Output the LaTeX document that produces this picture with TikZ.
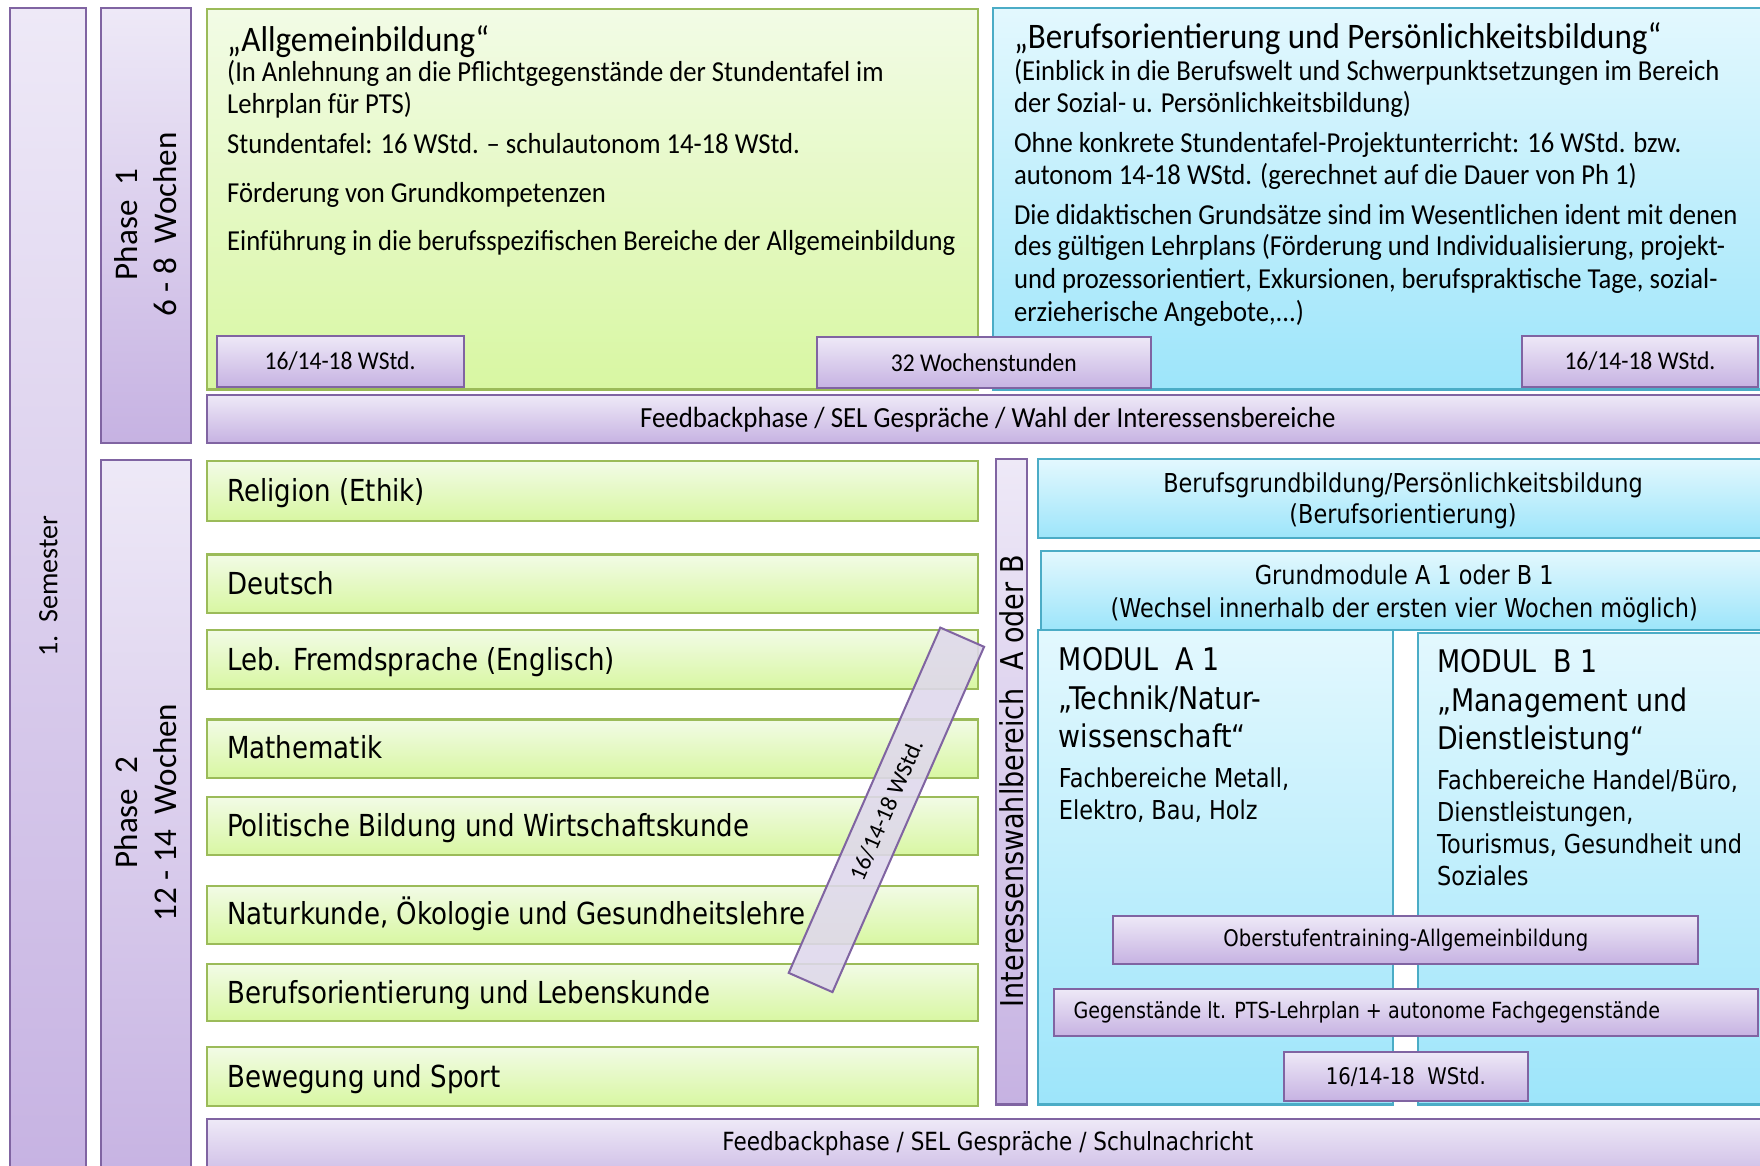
\documentclass[tikz,border=0pt]{standalone}
\usepackage{fontspec}
\setmainfont{Carlito}
\newfontfamily\condf[FakeStretch=0.92]{Carlito}
\newfontfamily\tahf[FakeStretch=0.86]{DejaVu Sans}
\newcommand\fsz[2]{\fontsize{#1pt}{#2pt}\selectfont}
\definecolor{pbord}{HTML}{8064A2}
\definecolor{ptop}{HTML}{EEE9F7}
\definecolor{pbot}{HTML}{C6B2E2}
\definecolor{gbord}{HTML}{9BBB59}
\definecolor{gtop}{HTML}{F2FBE6}
\definecolor{gbot}{HTML}{D8F7A2}
\definecolor{bbord}{HTML}{4BACC6}
\definecolor{btop}{HTML}{E3F8FE}
\definecolor{bbot}{HTML}{9DE5FA}
\definecolor{dgfill}{HTML}{DFD8EC}
\tikzset{
  boxbase/.style={line width=0.9pt, inner sep=0pt, outer sep=0pt, anchor=north west},
  pbx/.style={boxbase, draw=pbord, top color=ptop, bottom color=pbot},
  gbx/.style={boxbase, draw=gbord, top color=gtop, bottom color=gbot},
  bbx/.style={boxbase, draw=bbord, top color=btop, bottom color=bbot},
  tl/.style={inner sep=0pt, anchor=base west},
  body/.style={tl, font={\condf\fsz{12.9}{14}}},
  ttl/.style={tl, font={\condf\fsz{16}{18}}},
  sub/.style={tl, font={\tahf\fsz{13.5}{15}}},
  mtitle/.style={tl, font={\tahf\fsz{13.9}{16}}},
  mbody/.style={tl, font={\tahf\fsz{11.6}{13}}},
  smalltah/.style={font={\tahf\fsz{9.9}{12}}},
}
% optional text, style, name, x1, y1, x2, y2
\newcommand\placebox[7][]{\node[#2, minimum width={(#6-#4)*0.5pt}, minimum height={(#7-#5)*0.5pt}] (#3) at (#4,#5) {#1};}
\begin{document}
\begin{tikzpicture}[x=0.5pt,y=-0.5pt]
\useasboundingbox (0,0) rectangle (1568,1038);
\clip (0,0) rectangle (1568,1038);
\fill[white] (0,0) rectangle (1568,1038);

% left columns
\placebox{pbx}{sem}{9}{7}{77}{1060}
\placebox{pbx}{ph1}{90}{7}{170}{395}
\placebox{pbx}{ph2}{90}{410}{170}{1060}
\node[rotate=90] (semt) at (43,522) {\fsz{12.5}{15}1.\ \ Semester};
\node[rotate=90, align=center, font={\fsz{14.75}{17.5}}] (ph1t) at (130,200) {Phase\ \ 1\\6 - 8\ \ Wochen};
\node[rotate=90, align=center, font={\fsz{14.75}{17.5}}] (ph2t) at (130,724) {Phase\ \ 2\\12 - 14\ \ Wochen};

% phase 1 boxes
\placebox{gbx}{allg}{184}{8}{871}{347}
\placebox{bbx}{beruf}{885}{7}{1580}{347}

\node[ttl] (a0) at (202,46) {„Allgemeinbildung“};
\node[body] (a1) at (202,73) {(In Anlehnung an die Pflichtgegenstände der Stundentafel im};
\node[body] (a2) at (202,101) {Lehrplan für PTS)};
\node[body] (a3) at (202,137) {Stundentafel: 16 WStd. – schulautonom 14-18 WStd.};
\node[body] (a4) at (202,180) {Förderung von Grundkompetenzen};
\node[body] (a5) at (202,223) {Einführung in die berufsspezifischen Bereiche der Allgemeinbildung};

\node[ttl] (b0) at (903,43) {„Berufsorientierung und Persönlichkeitsbildung“};
\node[body] (b1) at (903,72) {(Einblick in die Berufswelt und Schwerpunktsetzungen im Bereich};
\node[body] (b2) at (903,100) {der Sozial- u. Persönlichkeitsbildung)};
\node[body] (b3) at (903,136) {Ohne konkrete Stundentafel-Projektunterricht: 16 WStd. bzw.};
\node[body] (b4) at (903,164) {autonom 14-18 WStd. (gerechnet auf die Dauer von Ph 1)};
\node[body] (b5) at (903,200) {Die didaktischen Grundsätze sind im Wesentlichen ident mit denen};
\node[body] (b6) at (903,228) {des gültigen Lehrplans (Förderung und Individualisierung, projekt-};
\node[body] (b7) at (903,257) {und prozessorientiert, Exkursionen, berufspraktische Tage, sozial-};
\node[body] (b8) at (903,286) {erzieherische Angebote,...)};

\placebox[\condf\fsz{11.4}{13}16/14-18 WStd.]{pbx}{w1}{193}{299}{413}{345}
\placebox[\condf\fsz{11.4}{13}32 Wochenstunden]{pbx}{w32}{728}{300}{1025}{346}
\placebox[\condf\fsz{11.4}{13}16/14-18 WStd.]{pbx}{w2}{1356}{299}{1566}{345}

\placebox{pbx}{fb1}{184}{352}{1580}{395}
\node[font={\condf\fsz{13}{15}}] (fb1t) at (880,374) {Feedbackphase / SEL Gespräche / Wahl der Interessensbereiche};

% phase 2 subjects
\placebox{gbx}{rel}{184}{411}{871}{464}
\placebox{gbx}{deu}{184}{494}{871}{546}
\placebox{gbx}{leb}{184}{561}{871}{614}
\placebox{gbx}{mat}{184}{641}{871}{693}
\placebox{gbx}{pol}{184}{710}{871}{762}
\placebox{gbx}{nat}{184}{789}{871}{841}
\placebox{gbx}{bor}{184}{859}{871}{910}
\placebox{gbx}{bew}{184}{933}{871}{985}
\node[sub] (relt) at (202,447) {Religion (Ethik)};
\node[sub] (deut) at (202,530) {Deutsch};
\node[sub] (lebt) at (202,597) {Leb. Fremdsprache (Englisch)};
\node[sub] (matt) at (202,676) {Mathematik};
\node[sub] (polt) at (202,745.5) {Politische Bildung und Wirtschaftskunde};
\node[sub] (natt) at (202,824) {Naturkunde, Ökologie und Gesundheitslehre};
\node[sub] (bort) at (202,894) {Berufsorientierung und Lebenskunde};
\node[sub] (bewt) at (202,968.5) {Bewegung und Sport};

% Interessenswahlbereich
\placebox{pbx}{iwb}{887}{409}{915}{984}
\node[rotate=90, font={\tahf\fsz{14}{16}}] (iwbt) at (901,696) {Interessenswahlbereich\ \ A oder B};

% right blue area
\placebox{bbx}{bgb}{925}{409}{1580}{479}
\node[align=center, font={\tahf\fsz{11.6}{14}}] (bgbt) at (1250,446) {Berufsgrundbildung/Persönlichkeitsbildung\\(Berufsorientierung)};
\placebox{bbx}{grm}{927}{491}{1580}{561}
\node[align=center, font={\tahf\fsz{11.6}{14.5}}] (grmt) at (1251,529) {Grundmodule A 1 oder B 1\\(Wechsel innerhalb der ersten vier Wochen möglich)};
\placebox{bbx}{ma}{925}{561}{1241}{984}
\placebox{bbx}{mb}{1263}{564}{1580}{984}

\node[mtitle] (ma1) at (943,597) {MODUL\ \ A 1};
\node[mtitle] (ma2) at (943,632) {„Technik/Natur-};
\node[mtitle] (ma3) at (943,666) {wissenschaft“};
\node[mbody] (ma4) at (943,702) {Fachbereiche Metall,};
\node[mbody] (ma5) at (943,730) {Elektro, Bau, Holz};

\node[mtitle] (mb1) at (1280,599) {MODUL\ \ B 1};
\node[mtitle] (mb2) at (1280,634) {„Management und};
\node[mtitle] (mb3) at (1280,668) {Dienstleistung“};
\node[mbody] (mb4) at (1280,703) {Fachbereiche Handel/Büro,};
\node[mbody] (mb5) at (1280,732) {Dienstleistungen,};
\node[mbody] (mb6) at (1280,760) {Tourismus, Gesundheit und};
\node[mbody] (mb7) at (1280,789) {Soziales};

\placebox[\tahf\fsz{10.2}{12}Oberstufentraining-Allgemeinbildung]{pbx}{obs}{992}{816}{1513}{859}
\placebox{pbx}{geg}{939}{881}{1566}{923}
\node[smalltah, anchor=west, inner sep=0pt] (gegt) at (956,902) {Gegenstände lt. PTS-Lehrplan + autonome Fachgegenstände};
\placebox[\tahf\fsz{10.2}{12}16/14-18\ \ WStd.]{pbx}{w3}{1144}{937}{1361}{981}

% diagonal box
\node[draw=pbord, line width=0.9pt, fill=dgfill, fill opacity=0.88, text opacity=1, inner sep=0pt,
      rotate=66.3, minimum width=168pt, minimum height=21.3pt, font={\fsz{10.5}{12}}] (dg) at (789.7,721.5) {16/14-18 WStd.};

% feedback 2
\placebox{pbx}{fb2}{184}{997}{1580}{1060}
\node[font={\tahf\fsz{11.15}{13}}] (fb2t) at (880,1019) {Feedbackphase / SEL Gespräche / Schulnachricht};
\end{tikzpicture}
\end{document}
